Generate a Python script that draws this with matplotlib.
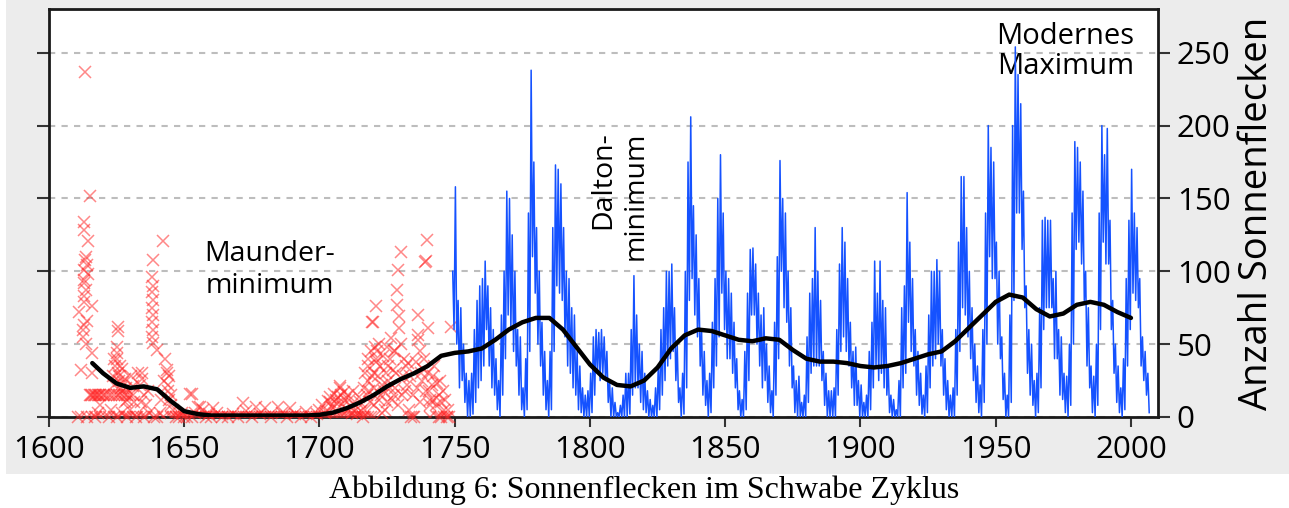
import matplotlib.pyplot as plt
from matplotlib.patches import Rectangle

plt.rcParams['font.family'] = ['Open Sans', 'DejaVu Sans']

# --- data ------------------------------------------------------------------
# early telescope observations (red crosses)
red_years = [
    1610.8, 1611, 1612, 1612.5, 1612.5, 1612.8, 1613, 1613, 1613, 1613, 1613, 1613.2,
    1613.5, 1613, 1613, 1613.2, 1614.5, 1614, 1614.5, 1613.5, 1614, 1613.5, 1615.2,
    1615.8, 1616, 1615.8, 1614, 1617, 1618, 1619,
    1615, 1615.5, 1616, 1616.5, 1617, 1617.5, 1618, 1618.5, 1619, 1620, 1620.5, 1621,
    1622, 1623, 1624, 1625, 1626, 1627, 1628, 1629, 1630, 1631,
    1622, 1623, 1624, 1624.5, 1625, 1625, 1625.5, 1625.5, 1625, 1625.5, 1626, 1626,
    1626.5, 1627, 1627, 1628, 1628, 1629, 1630, 1631, 1632, 1629, 1625, 1627,
    1623.5, 1624, 1626.2, 1627.5, 1628.5, 1630.5, 1631.5, 1633.5, 1636.5, 1637,
    1633, 1634.2, 1634.5, 1635, 1635, 1636, 1634,
    1638.5, 1638, 1638.5, 1638, 1638.5, 1638, 1638.5, 1638, 1638.5, 1638, 1639.8,
    1638.5, 1642.2, 1639, 1640, 1641, 1641.5, 1642.5, 1643, 1644.2,
    1643.5, 1643.6, 1644, 1644, 1644.5, 1645, 1645, 1646, 1647, 1648, 1649, 1650,
    1652, 1652.7,
    1651, 1653, 1654, 1655, 1656, 1657, 1658, 1659, 1660, 1660.7, 1662, 1664, 1666,
    1668, 1670, 1671.8, 1673, 1675, 1676.6, 1678, 1680, 1682, 1684.7, 1686, 1688,
    1689, 1691, 1693, 1695, 1697, 1699, 1700,
    1701, 1702, 1703.8, 1704, 1705, 1706, 1707.5, 1707.5, 1708, 1708.5, 1709, 1710,
    1711, 1712, 1713, 1714, 1715, 1716,
    1702.5, 1703, 1704.5, 1705.5, 1706.5, 1707, 1709.5, 1710.5, 1711.5, 1712.5,
    1713.5, 1714.5, 1715.5, 1716.5,
    1717, 1717.5, 1718, 1718, 1718.5, 1719, 1719.3, 1719.8, 1720, 1720, 1720.5, 1721,
    1721, 1721.5, 1722, 1722.5, 1723, 1723, 1724, 1724.5, 1725, 1725.5, 1726, 1726.6,
    1727, 1727.5, 1728, 1728.6, 1728.8, 1729, 1729.5, 1729.5, 1730.3, 1730, 1731,
    1731.5, 1732, 1732.8, 1733, 1734, 1735,
    1717, 1717.8, 1718.2, 1719.5, 1720.2, 1720.8, 1721.2, 1722, 1722.8, 1723.5,
    1724.2, 1724.8, 1725.3, 1726.2, 1726.8, 1727.4, 1728, 1728.3, 1729, 1730.5,
    1731.2, 1732.3, 1733.5, 1734.5, 1735.5, 1736, 1737.2, 1738.2, 1739.2, 1740.8,
    1741.8, 1742.5, 1744.5, 1745.5, 1746.5, 1747.5,
    1736.5, 1736.6, 1736.6, 1737, 1737.5, 1738, 1738.5, 1739, 1739.6, 1739.3, 1740,
    1740.2, 1740.5, 1741, 1741.5, 1742, 1743.3, 1743, 1744, 1744, 1745, 1745, 1746,
    1747, 1748, 1748.8,
]
red_values = [
    0, 72, 32, 55, 60, 63, 79, 83, 92, 94, 101, 108,
    110, 128, 134, 237, 121, 104, 98, 87, 66, 50, 152,
    76, 44, 30, 0, 0, 3, 8,
    15, 15, 15, 15, 15, 15, 15, 15, 15, 15, 15, 15,
    15, 15, 15, 15, 15, 15, 15, 15, 15, 15,
    0, 5, 22, 35, 48, 44, 62, 59, 40, 30, 25, 28,
    20, 33, 18, 26, 10, 12, 5, 21, 0, 0, 0, 3,
    28, 40, 35, 24, 20, 28, 10, 22, 18, 3,
    30, 30, 26, 15, 0, 8, 10,
    108, 96, 90, 86, 80, 75, 70, 65, 60, 55, 46,
    51, 121, 0, 0, 3, 12, 25, 40, 28,
    32, 30, 22, 18, 12, 15, 8, 5, 0, 0, 3, 0,
    16, 16,
    0, 0, 3, 7, 7, 5, 0, 2, 0, 6, 3, 0, 0,
    2, 0, 9.5, 4, 0, 7, 2, 6, 0, 7, 3, 0,
    6, 2, 0, 3.5, 0, 2, 5,
    8, 3, 14, 10, 6, 12, 20, 21, 15, 9, 17, 5,
    12, 3, 8, 2, 10, 0,
    4, 11, 7, 16, 9, 14, 12, 15, 7, 18,
    5, 14, 4, 20,
    5, 15, 25, 35, 10, 45, 65, 65, 30, 20, 48, 76,
    40, 28, 12, 35, 22, 3, 18, 30, 10, 25, 40, 54,
    32, 15, 45, 87, 77, 101, 69, 61, 113.5, 50, 28,
    18, 35, 37, 5, 0, 0,
    30, 40, 18, 28, 8, 38, 45, 50, 15, 42,
    5, 48, 35, 20, 12, 45, 20, 30, 8, 15,
    40, 22, 28, 15, 38, 20, 10, 33, 18, 8,
    28, 35, 25, 18, 12, 5,
    70, 56, 53, 45, 30, 25, 40, 106.7, 121.5, 107, 30,
    61, 18, 12, 22, 12, 23, 8, 15, 0, 10, 0, 5,
    0, 0, 62,
]
# observations with no spots at all (crosses sitting on the zero line)
red_zero_years = [
    1612, 1616, 1617.5, 1619, 1621, 1624, 1626, 1628, 1629.5, 1631, 1632.5, 1634,
    1636, 1642,
    1645, 1646, 1647, 1648, 1649, 1650, 1651, 1652, 1653, 1654, 1655, 1656, 1657,
    1658, 1659, 1660, 1661, 1662, 1663, 1664, 1665, 1666, 1667, 1668, 1669, 1670,
    1671, 1672, 1673, 1674, 1675, 1676, 1677, 1678, 1679, 1680, 1681, 1682, 1683,
    1684, 1685, 1686, 1687, 1688, 1689, 1690, 1691, 1692, 1693, 1694, 1695, 1696,
    1697, 1698, 1699, 1700, 1701, 1702, 1703, 1704, 1705, 1706, 1707, 1708, 1709,
    1710, 1711, 1712, 1713, 1714, 1715, 1716, 1717, 1718, 1719, 1720,
    1733, 1734.5, 1741, 1743.5, 1746, 1747,
]

# systematic record 1749-2006: per year the highest and lowest monthly value
blue_years = list(range(1749, 2007))
blue_high = [
    100,
    158, 80, 75, 50, 30, 25, 30, 60, 80, 90,       # 1750
    95, 107, 90, 75, 60, 40, 25, 70, 100, 155,     # 1760
    150, 125, 100, 60, 55, 20, 40, 140, 238, 175,  # 1770
    130, 100, 65, 45, 25, 45, 130, 173, 170, 160,  # 1780
    130, 100, 95, 75, 70, 45, 35, 20, 15, 18,      # 1790
    30, 55, 60, 58, 60, 55, 45, 25, 20, 10,        # 1800
    3, 8, 15, 30, 30, 60, 97, 70, 50, 45,          # 1810
    30, 18, 12, 8, 20, 35, 60, 75, 100, 100,       # 1820
    105, 75, 50, 20, 30, 100, 175, 206, 145, 125,  # 1830
    95, 60, 45, 25, 30, 65, 95, 150, 180, 140,     # 1840
    100, 95, 85, 65, 40, 18, 12, 45, 85, 115,      # 1850
    116, 105, 85, 70, 75, 50, 35, 18, 65, 110,     # 1860
    176, 150, 140, 100, 75, 35, 25, 28, 10, 15,    # 1870
    55, 85, 95, 130, 100, 80, 45, 30, 18, 18,      # 1880
    20, 60, 105, 130, 120, 95, 65, 45, 48, 25,     # 1890
    22, 10, 15, 45, 65, 107, 85, 107, 80, 75,      # 1900
    35, 15, 12, 5, 25, 75, 90, 154, 120, 95,       # 1910
    60, 45, 30, 15, 35, 70, 100, 100, 108, 100,    # 1920
    60, 40, 25, 15, 20, 60, 120, 165, 165, 130,    # 1930
    100, 75, 50, 35, 22, 60, 140, 200, 185, 175,   # 1940
    120, 100, 55, 30, 15, 70, 200, 254, 235, 215,  # 1950
    155, 90, 60, 50, 25, 30, 75, 135, 137, 135,    # 1960
    135, 95, 100, 60, 55, 30, 28, 50, 140, 189,    # 1970
    185, 175, 155, 100, 75, 35, 28, 50, 140, 200,  # 1980
    180, 198, 135, 80, 50, 35, 20, 40, 95, 135,    # 1990
    170, 140, 130, 95, 55, 45, 30,                 # 2000
]
blue_low = [
    60,
    50, 20, 25, 10, 0, 0, 2, 10, 20, 25,           # 1750
    35, 60, 35, 20, 15, 5, 0, 15, 40, 70,          # 1760
    60, 45, 35, 15, 5, 0, 5, 45, 110, 85,          # 1770
    50, 35, 15, 5, 0, 5, 45, 90, 85, 80,           # 1780
    55, 35, 30, 20, 15, 5, 3, 0, 0, 0,             # 1790
    3, 15, 30, 25, 30, 25, 10, 0, 0, 0,            # 1800
    0, 0, 0, 0, 2, 15, 20, 20, 10, 5,              # 1810
    3, 0, 0, 0, 0, 5, 15, 25, 35, 40,              # 1820
    45, 25, 10, 0, 2, 20, 80, 95, 70, 55,          # 1830
    35, 15, 8, 0, 3, 20, 35, 55, 85, 60,           # 1840
    40, 40, 30, 20, 5, 0, 0, 5, 25, 70,            # 1850
    70, 50, 35, 20, 25, 10, 3, 0, 15, 40,          # 1860
    100, 75, 65, 35, 20, 3, 0, 0, 0, 0,            # 1870
    10, 30, 35, 35, 35, 25, 8, 0, 0, 0,            # 1880
    0, 15, 45, 55, 45, 35, 20, 8, 8, 0,            # 1890
    0, 0, 0, 5, 20, 35, 25, 30, 20, 15,            # 1900
    3, 0, 0, 0, 0, 20, 30, 65, 45, 35,             # 1910
    15, 8, 2, 0, 3, 20, 35, 40, 50, 35,            # 1920
    15, 5, 0, 0, 0, 15, 45, 75, 70, 55,            # 1930
    40, 25, 10, 3, 0, 10, 50, 110, 95, 95,         # 1940
    50, 40, 12, 0, 0, 10, 80, 140, 140, 115,       # 1950
    75, 30, 15, 8, 0, 3, 20, 60, 75, 75,           # 1960
    75, 40, 40, 15, 12, 3, 0, 8, 50, 115,          # 1970
    120, 105, 80, 35, 20, 3, 0, 8, 60, 120,        # 1980
    105, 105, 60, 30, 10, 3, 0, 5, 35, 60,         # 1990
    85, 80, 75, 35, 25, 15, 3,                     # 2000
]

# long-term smoothed curve (black)
smooth_years = [
    1616, 1620, 1625, 1630, 1635, 1640, 1645, 1650, 1655, 1660, 1665, 1670, 1675,
    1680, 1685, 1690, 1695, 1700, 1705, 1710, 1715, 1720, 1725, 1730, 1735, 1740,
    1745, 1750, 1755, 1760, 1765, 1770, 1775, 1780, 1785, 1790, 1795, 1800, 1805,
    1810, 1815, 1820, 1825, 1830, 1835, 1840, 1845, 1850, 1855, 1860, 1865, 1870,
    1875, 1880, 1885, 1890, 1895, 1900, 1905, 1910, 1915, 1920, 1925, 1930, 1935,
    1940, 1945, 1950, 1955, 1960, 1965, 1970, 1975, 1980, 1985, 1990, 1995, 2000,
]
smooth_values = [
    37, 30, 23, 20, 21, 19, 11, 4, 2, 1, 1, 1, 1,
    1, 1, 1, 1, 1.5, 3, 6, 10, 15, 21, 26, 30, 35,
    42, 44, 45, 47, 53, 60, 65, 68, 68, 60, 48, 36, 27,
    22, 21, 25, 34, 47, 56, 60, 59, 56, 53, 52, 54, 53,
    46, 40, 38, 38, 37, 35, 34, 35, 37, 40, 43, 45, 52,
    61, 70, 79, 84, 82, 74, 69, 71, 77, 79, 77, 72, 68,
]

y_ticks = [0, 50, 100, 150, 200, 250]
x_ticks = [1600, 1650, 1700, 1750, 1800, 1850, 1900, 1950, 2000]

# --- figure ----------------------------------------------------------------
fig = plt.figure(figsize=(12.89, 5.08), dpi=100)
fig.patches.append(Rectangle((6 / 1289, 34 / 508), 1, 1, transform=fig.transFigure,
                             facecolor='#ececec', edgecolor='none', zorder=-1))
ax = fig.add_axes([49 / 1289, 91 / 508, 1109 / 1289, 408 / 508])
ax.set_facecolor('white')

red_style = dict(marker='x', ls='none', color='#ff2626', alpha=0.55, ms=8, mew=1.1,
                 zorder=3)
ax.plot(red_years, red_values, clip_on=False, **red_style)
ax.plot(red_zero_years, [0] * len(red_zero_years), **red_style)

# zigzag through each year's high and low monthly value
bx, by = [], []
for yr, hi, lo in zip(blue_years, blue_high, blue_low):
    bx += [yr + 0.25, yr + 0.75]
    by += [hi, lo]
ax.plot(bx, by, color='#1552ff', lw=1.1, zorder=4)

ax.plot(smooth_years, smooth_values, color='black', lw=3.2, zorder=5,
        solid_joinstyle='round', solid_capstyle='round')

ax.set_xlim(1600, 2010)
ax.set_ylim(0, 280)
ax.set_xticks(x_ticks)
ax.set_yticks(y_ticks)
ax.yaxis.grid(True, linestyle=(0, (3, 3)), color='#bdbdbd', lw=1.5)
ax.set_axisbelow(True)

ax.tick_params(axis='y', left=True, right=True, labelleft=False, labelright=True,
               direction='out', length=8.5, width=1.5, labelsize=22.5, pad=5,
               color='#333333')
ax.tick_params(axis='x', direction='out', length=7, width=1.5, labelsize=22.5,
               pad=6, color='#333333')
for s in ax.spines.values():
    s.set_linewidth(2)
    s.set_color('#1a1a1a')

ax.yaxis.set_label_position('right')
ax.set_ylabel('Anzahl Sonnenflecken', fontsize=27.5)
ax.yaxis.set_label_coords(1.072, 0.5)

ax.text(1681.7, 101, 'Maunder-\nminimum', ha='center', va='center', fontsize=20.5)
ax.text(1811, 152, 'Dalton-\nminimum', rotation=90, ha='center', va='center',
        multialignment='right', fontsize=20.5)
ax.text(1975.8, 251, 'Modernes\nMaximum', ha='center', va='center', fontsize=21,
        linespacing=1.05)

fig.text(0.4996, 1 - 490 / 508, 'Abbildung 6: Sonnenflecken im Schwabe Zyklus',
         family=['Liberation Serif'], fontsize=23, ha='center', va='center')

fig.savefig('out.png', dpi=100)
